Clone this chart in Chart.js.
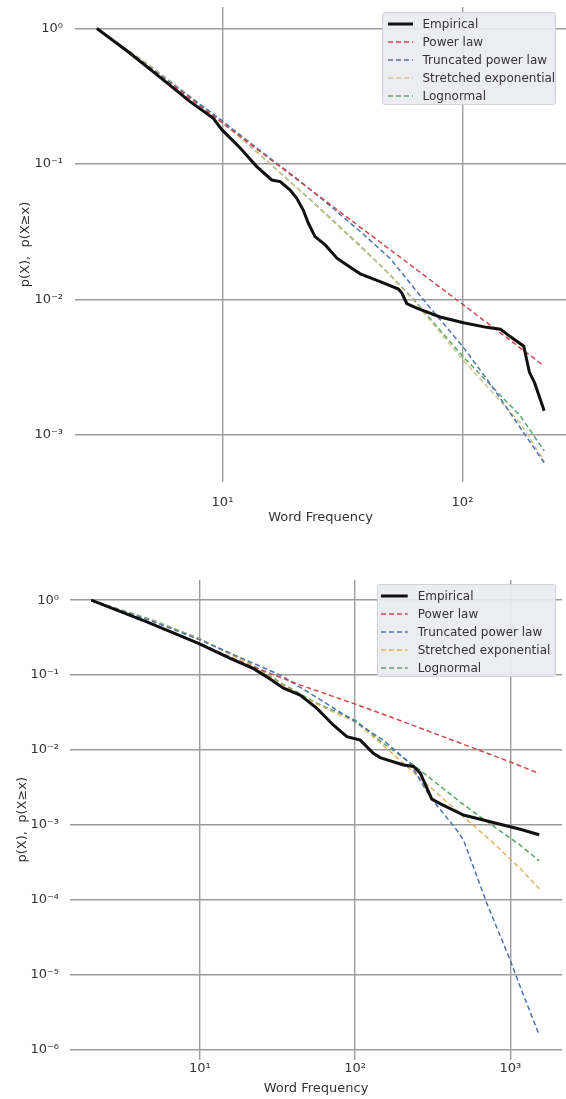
<!DOCTYPE html>
<html>
<head>
<meta charset="utf-8">
<script src="https://cdn.jsdelivr.net/npm/chart.js@4.4.1/dist/chart.umd.min.js"></script>
<style>
  body { margin: 0; background: #fff; width: 566px; height: 1099px; position: relative; overflow: hidden; font-family: "DejaVu Sans", sans-serif; }
  canvas { position: absolute; left: 0; }
  #topCanvas { top: 0; }
  #bottomCanvas { top: 540px; }
  .legend { position: absolute; box-sizing: border-box; background: rgba(234, 234, 242, 0.92); border: 1px solid #d2d2da; border-radius: 3px; font-size: 12px; color: #333; }
  .legend .row { display: flex; align-items: center; height: 18px; white-space: nowrap; }
  .legend svg { display: block; flex: none; }
</style>
</head>
<body>
<canvas id="topCanvas" width="566" height="540"></canvas>
<canvas id="bottomCanvas" width="566" height="559"></canvas>
<div id="topLegend" class="legend" style="left:382px; top:12px; width:174px; height:93px; padding:1.5px 0 0 4.5px;"></div>
<div id="bottomLegend" class="legend" style="left:377px; top:584px; width:179px; height:93px; padding:1.5px 0 0 3px;"></div>
<script>
// ---- upper panel ----
const topEmpX = [3, 4.12, 5.67, 7.33, 9.16, 9.96, 11.8, 13.9, 16.05, 17.4, 19.1, 20.4, 21.7, 22.8, 24.3, 26.8, 30.0, 33.0, 37.5, 45.4, 54.1, 55.9, 58.6, 64.5, 80.7, 101, 126, 144, 158, 180, 190, 200, 219];
const topEmpY = [1, 0.656, 0.417, 0.288, 0.217, 0.178, 0.132, 0.0954, 0.076, 0.0739, 0.0642, 0.0557, 0.0456, 0.0364, 0.029, 0.0252, 0.0201, 0.0179, 0.0154, 0.0135, 0.0119, 0.0111, 0.0093, 0.0086, 0.0074, 0.0067, 0.0062, 0.006, 0.0053, 0.0045, 0.0029, 0.0024, 0.0015];
const topPowX = [3, 5, 10, 20, 50, 100, 216];
const topPowY = [1, 0.505, 0.2, 0.079, 0.0232, 0.0092, 0.00327];
const topTruncX = [3, 5, 10, 15, 20, 27, 38, 50, 68.5, 100, 130, 219];
const topTruncY = [1, 0.515, 0.207, 0.118, 0.08, 0.052, 0.031, 0.02, 0.01, 0.0045, 0.0024, 0.00062];
const topStretchX = [3, 5, 10, 15.8, 23.9, 36.3, 46.9, 61, 100, 174, 219];
const topStretchY = [1, 0.53, 0.205, 0.1, 0.0515, 0.0258, 0.0168, 0.0103, 0.0036, 0.00122, 0.00064];
const topLognX = [3, 5, 10, 15.8, 23.9, 36.3, 46.9, 61, 100, 174, 219];
const topLognY = [1, 0.53, 0.205, 0.1, 0.052, 0.0262, 0.0169, 0.0105, 0.0038, 0.00138, 0.00076];
const topXTicks = [10, 100];
const topXTickLabels = ["10\u00b9", "10\u00b2"];
const topYTicks = [1, 0.1, 0.01, 0.001];
const topYTickLabels = ["10\u2070", "10\u207b\u00b9", "10\u207b\u00b2", "10\u207b\u00b3"];

// ---- lower panel ----
const botEmpX = [2, 4.56, 9.81, 15.7, 22.2, 27.0, 34.6, 44.3, 56.8, 72.6, 88.6, 108, 131, 145, 205, 238, 263, 312, 355, 499, 741, 1156, 1533];
const botEmpY = [1, 0.513, 0.264, 0.1665, 0.1217, 0.0946, 0.0669, 0.0539, 0.0358, 0.0214, 0.015, 0.0135, 0.009, 0.0079, 0.0063, 0.006, 0.0049, 0.0022, 0.0019, 0.00135, 0.0011, 0.00087, 0.000735];
const botPowX = [2, 5, 10, 20, 44, 100, 200, 400, 1000, 1533];
const botPowY = [1, 0.48, 0.265, 0.14, 0.074, 0.041, 0.0242, 0.0141, 0.0069, 0.00484];
const botTruncX = [2, 5, 10, 21.1, 33, 56.8, 100.6, 152, 226, 304, 452, 499, 706, 997, 1156, 1533];
const botTruncY = [1, 0.52, 0.295, 0.15, 0.1, 0.05, 0.0237, 0.0135, 0.0066, 0.00236, 0.00085, 0.000625, 0.000089, 0.0000156, 0.0000069, 0.00000156];
const botStretchX = [2, 5, 10, 21.1, 34.6, 56.8, 100.6, 145, 304, 499, 741, 1156, 1533];
const botStretchY = [1, 0.53, 0.3, 0.14, 0.072, 0.041, 0.0235, 0.0125, 0.0032, 0.00128, 0.000625, 0.000262, 0.00014];
const botLognX = [2, 5, 10, 21.1, 34.6, 56.8, 100.6, 145, 250, 499, 741, 1156, 1533];
const botLognY = [1, 0.54, 0.305, 0.143, 0.075, 0.042, 0.025, 0.0132, 0.0058, 0.00186, 0.00103, 0.000536, 0.00033];
const botXTicks = [10, 100, 1000];
const botXTickLabels = ["10\u00b9", "10\u00b2", "10\u00b3"];
const botYTicks = [1, 0.1, 0.01, 0.001, 0.0001, 0.00001, 0.000001];
const botYTickLabels = ["10\u2070", "10\u207b\u00b9", "10\u207b\u00b2", "10\u207b\u00b3", "10\u207b\u2074", "10\u207b\u2075", "10\u207b\u2076"];

const seriesNames = ["Empirical", "Power law", "Truncated power law", "Stretched exponential", "Lognormal"];

const FONT = "'DejaVu Sans', sans-serif";
const TEXT = "#333333";
const GRID = "#9c9c9c";

function toPoints(xs, ys) {
  return xs.map((x, i) => ({ x: x, y: ys[i] }));
}

function buildDatasets(series, tan) {
  const colors = ["#111111", "#cf4a4f", "#4c72b0", tan, "#55a868"];
  return series.map((s, i) => ({
    label: seriesNames[i],
    data: toPoints(s[0], s[1]),
    borderColor: colors[i],
    borderWidth: i === 0 ? 3 : 1.5,
    borderDash: i === 0 ? [] : [5, 3],
    pointRadius: 0,
    tension: 0,
    fill: false
  }));
}

function htmlLegend(chart, id, handleW, gap) {
  const box = document.getElementById(id);
  chart.data.datasets.forEach((ds) => {
    const row = document.createElement("div");
    row.className = "row";
    const svgNS = "http://www.w3.org/2000/svg";
    const svg = document.createElementNS(svgNS, "svg");
    svg.setAttribute("width", handleW);
    svg.setAttribute("height", 6);
    const line = document.createElementNS(svgNS, "line");
    line.setAttribute("x1", 0);
    line.setAttribute("x2", handleW);
    line.setAttribute("y1", 3);
    line.setAttribute("y2", 3);
    line.setAttribute("stroke", ds.borderColor);
    line.setAttribute("stroke-width", ds.borderWidth);
    if (ds.borderDash.length) line.setAttribute("stroke-dasharray", ds.borderDash.join(","));
    svg.appendChild(line);
    const txt = document.createElement("span");
    txt.style.marginLeft = gap + "px";
    txt.textContent = ds.label;
    row.appendChild(svg);
    row.appendChild(txt);
    box.appendChild(row);
  });
}

function makeChart(canvasId, datasets, cfg) {
  return new Chart(document.getElementById(canvasId), {
    type: "line",
    data: { datasets: datasets },
    options: {
      responsive: false,
      animation: false,
      devicePixelRatio: 1,
      layout: { padding: { top: cfg.padTop, right: cfg.padRight, left: 0, bottom: 0 } },
      plugins: { legend: { display: false }, tooltip: { enabled: false } },
      scales: {
        x: {
          type: "logarithmic",
          min: cfg.xMin,
          max: cfg.xMax,
          afterBuildTicks: (scale) => { scale.ticks = cfg.xTicks.map((v) => ({ value: v })); },
          afterFit: (scale) => {
            scale.height = cfg.xAxisH;
            scale.paddingLeft = 0;
            scale.paddingRight = 0;
          },
          ticks: {
            autoSkip: false,
            maxRotation: 0,
            padding: cfg.xTickPad,
            color: TEXT,
            font: { family: FONT, size: 13 },
            callback: (v, i) => cfg.xLabels[i]
          },
          grid: { color: GRID, lineWidth: 1.4, drawTicks: false },
          border: { display: false },
          title: { display: true, text: "Word Frequency", color: TEXT, font: { family: FONT, size: 13 }, padding: { top: 0, bottom: cfg.xTitlePad } }
        },
        y: {
          type: "logarithmic",
          min: cfg.yMin,
          max: cfg.yMax,
          afterBuildTicks: (scale) => { scale.ticks = cfg.yTicks.map((v) => ({ value: v })); },
          afterFit: (scale) => {
            scale.width = cfg.yAxisW;
            scale.paddingTop = 0;
            scale.paddingBottom = 0;
          },
          ticks: {
            autoSkip: false,
            padding: cfg.yTickPad,
            color: TEXT,
            font: { family: FONT, size: 13 },
            callback: (v, i) => cfg.yLabels[i]
          },
          grid: { color: GRID, lineWidth: 1.4, drawTicks: false },
          border: { display: false },
          title: { display: true, text: "p(X),  p(X\u2265x)", color: TEXT, font: { family: FONT, size: 13 }, padding: { top: cfg.yTitlePad, bottom: 0 } }
        }
      }
    }
  });
}

const topChart = makeChart("topCanvas", buildDatasets([
  [topEmpX, topEmpY], [topPowX, topPowY], [topTruncX, topTruncY], [topStretchX, topStretchY], [topLognX, topLognY]
], "#d6c28c"), {
  padTop: 7, padRight: 0,
  xMin: 2.43, xMax: 270, yMin: 0.000447, yMax: 1.44,
  xTicks: topXTicks, xLabels: topXTickLabels, yTicks: topYTicks, yLabels: topYTickLabels,
  xAxisH: 58, yAxisW: 75, xTickPad: 13, yTickPad: 12, xTitlePad: 15, yTitlePad: 18
});

const bottomChart = makeChart("bottomCanvas", buildDatasets([
  [botEmpX, botEmpY], [botPowX, botPowY], [botTruncX, botTruncY], [botStretchX, botStretchY], [botLognX, botLognY]
], "#dcb45e"), {
  padTop: 40, padRight: 4,
  xMin: 1.46, xMax: 2150, yMin: 0.000000733, yMax: 1.86,
  xTicks: botXTicks, xLabels: botXTickLabels, yTicks: botYTicks, yLabels: botYTickLabels,
  xAxisH: 39.5, yAxisW: 70, xTickPad: 1, yTickPad: 11, xTitlePad: 3, yTitlePad: 14.5
});

htmlLegend(topChart, "topLegend", 25, 10);
htmlLegend(bottomChart, "bottomLegend", 26.7, 10);
</script>
</body>
</html>
